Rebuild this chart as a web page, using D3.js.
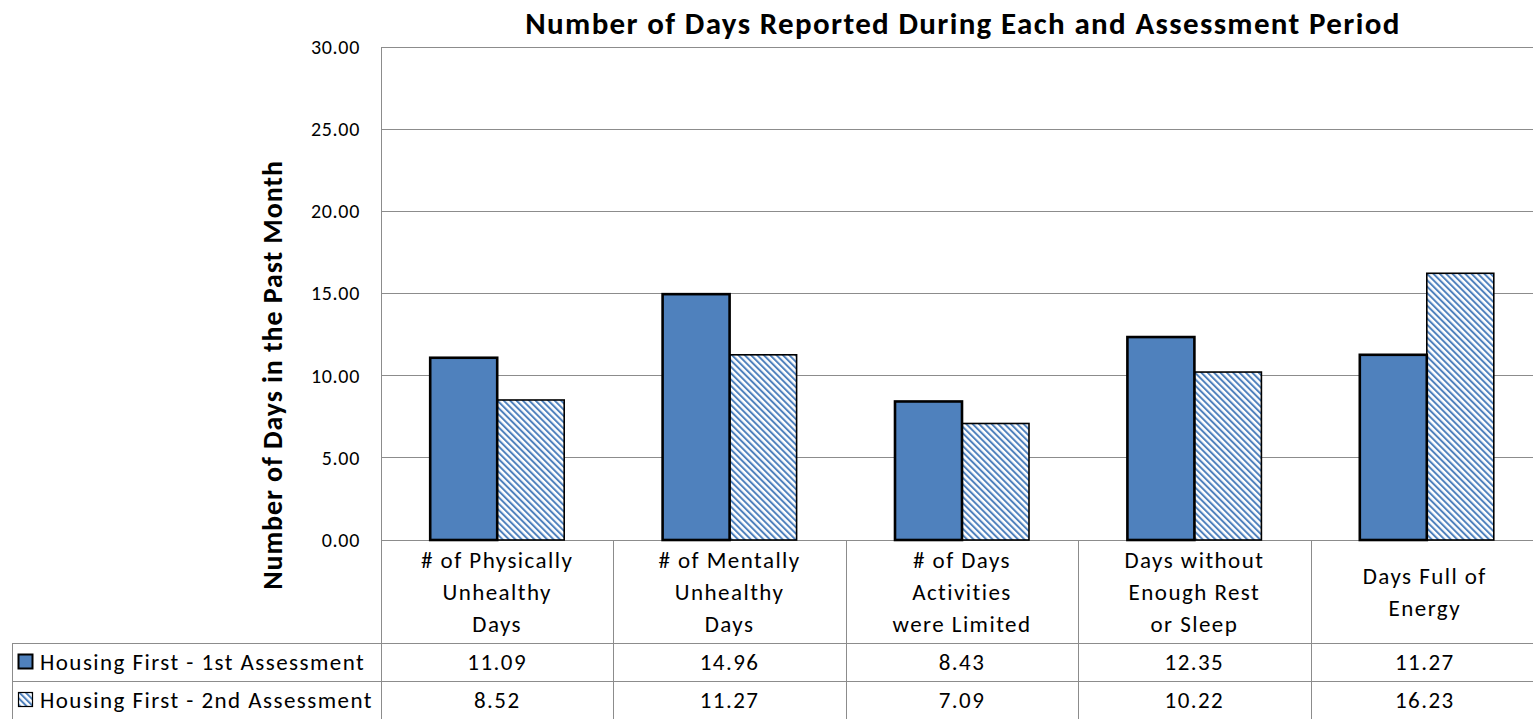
<!DOCTYPE html>
<html><head><meta charset="utf-8">
<script src="https://cdn.jsdelivr.net/npm/d3@7"></script>
<style>body{margin:0;background:#fff}svg{display:block}text{font-family:Carlito,"Open Sans","Liberation Sans",sans-serif;fill:#000}</style>
</head><body>
<svg id="c" width="1533" height="719"></svg>
<script>
const categories = [
  ["# of Physically","Unhealthy","Days"],
  ["# of Mentally","Unhealthy","Days"],
  ["# of Days","Activities","were Limited"],
  ["Days without","Enough Rest","or Sleep"],
  ["Days Full of","Energy"]
];
const seriesNames = ["Housing First - 1st Assessment","Housing First - 2nd Assessment"];
const first = [11.09, 14.96, 8.43, 12.35, 11.27];
const second = [8.52, 11.27, 7.09, 10.22, 16.23];
const yTicks = [0,5,10,15,20,25,30];
const title = "Number of Days Reported During Each and Assessment Period";
const yTitle = "Number of Days in the Past Month";

const svg = d3.select("#c");
const blue = "#4f81bd", grid = "#8c8c8c";
const plotL = 381, plotR = 1543, plotT = 47, plotB = 540;
const tableL = 12, row1 = 643, row2 = 681, tableB = 719;
const bodyFont = "23px", bodyLS = "1.45px";

const defs = svg.append("defs");
const pat = defs.append("pattern").attr("id","hatch").attr("patternUnits","userSpaceOnUse")
  .attr("width",4.5).attr("height",4.5).attr("patternTransform","rotate(-45)");
pat.append("rect").attr("width",4.5).attr("height",4.5).attr("fill","#fff");
pat.append("rect").attr("x",0).attr("width",2).attr("height",4.5).attr("fill",blue);

const x = d3.scaleBand().domain(d3.range(categories.length)).range([plotL, plotR]);
const y = d3.scaleLinear().domain([0,30]).range([plotB, plotT]);

// gridlines
svg.append("g").selectAll("line").data(yTicks).join("line")
  .attr("x1",plotL).attr("x2",1533).attr("y1",d=>y(d)).attr("y2",d=>y(d))
  .attr("stroke",grid).attr("stroke-width",1).attr("shape-rendering","crispEdges");
// y axis line
svg.append("line").attr("x1",plotL).attr("x2",plotL).attr("y1",plotT).attr("y2",tableB)
  .attr("stroke",grid).attr("shape-rendering","crispEdges");
// y tick labels
const yAxis = d3.axisLeft(y).tickValues(yTicks).tickFormat(d3.format(".2f")).tickSize(0).tickPadding(21);
const ga = svg.append("g").attr("transform",`translate(${plotL},0)`).call(yAxis);
ga.select(".domain").remove();
ga.selectAll("text").style("font-size","20px").style("letter-spacing","0.7px").attr("fill","#000")
  .style("font-family",'Carlito,"Open Sans","Liberation Sans",sans-serif');

// bars
const bw = 67;
const g1 = svg.append("g");
g1.selectAll("rect.s2").data(second).join("rect").attr("class","s2")
  .attr("x",(d,i)=>x(i)+x.bandwidth()/2).attr("width",bw)
  .attr("y",d=>y(d)).attr("height",d=>plotB-y(d))
  .attr("fill","url(#hatch)").attr("stroke","#000").attr("stroke-width",1.6);
g1.selectAll("rect.s1").data(first).join("rect").attr("class","s1")
  .attr("x",(d,i)=>x(i)+x.bandwidth()/2-bw).attr("width",bw)
  .attr("y",d=>y(d)).attr("height",d=>plotB-y(d))
  .attr("fill",blue).attr("stroke","#000").attr("stroke-width",2.6);

// table lines
const tl = svg.append("g").attr("stroke",grid).attr("shape-rendering","crispEdges");
tl.append("line").attr("x1",tableL).attr("x2",1533).attr("y1",row1).attr("y2",row1);
tl.append("line").attr("x1",tableL).attr("x2",1533).attr("y1",row2).attr("y2",row2);
tl.append("line").attr("x1",tableL).attr("x2",tableL).attr("y1",row1).attr("y2",tableB);
tl.selectAll("line.v").data(d3.range(1,categories.length)).join("line").attr("class","v")
  .attr("x1",i=>Math.round(x(i))).attr("x2",i=>Math.round(x(i))).attr("y1",plotB).attr("y2",tableB);

const cxOf = i => x(i)+x.bandwidth()/2 - (i===categories.length-1?2:0);

// category labels
const cl = svg.append("g");
categories.forEach((lines,i)=>{
  const lh = 32, mid = 592;
  const start = mid - (lines.length-1)*lh/2;
  lines.forEach((t,j)=>{
    cl.append("text").attr("x",cxOf(i)).attr("y",start+j*lh).attr("dy","0.35em")
      .attr("text-anchor","middle").style("font-size",bodyFont).style("letter-spacing",bodyLS).text(t);
  });
});

// data rows
[first, second].forEach((arr,r)=>{
  const cy = r===0?662:700;
  svg.append("g").selectAll("text").data(arr).join("text")
    .attr("x",(d,i)=>cxOf(i)).attr("y",cy).attr("dy","0.35em")
    .attr("text-anchor","middle").style("font-size",bodyFont).style("letter-spacing",bodyLS).text(d=>d3.format(".2f")(d));
  // legend key
  svg.append("rect").attr("x",18.5).attr("y",cy-7.5).attr("width",14).attr("height",14)
    .attr("fill", r===0?blue:"url(#hatch)").attr("stroke","#000").attr("stroke-width",r===0?2:1.2);
  svg.append("text").attr("x",40).attr("y",cy).attr("dy","0.35em").style("font-size",bodyFont).style("letter-spacing",bodyLS).text(seriesNames[r]);
});

// titles
svg.append("text").attr("x",963).attr("y",23).attr("dy","0.35em").attr("text-anchor","middle")
  .style("font-size","31px").style("letter-spacing","1.35px").style("font-weight","bold").text(title);
svg.append("text").attr("transform","translate(272,375) rotate(-90)").attr("dy","0.35em").attr("text-anchor","middle")
  .style("font-size","28px").style("letter-spacing","0.9px").style("font-weight","bold").text(yTitle);
</script>
</body></html>
